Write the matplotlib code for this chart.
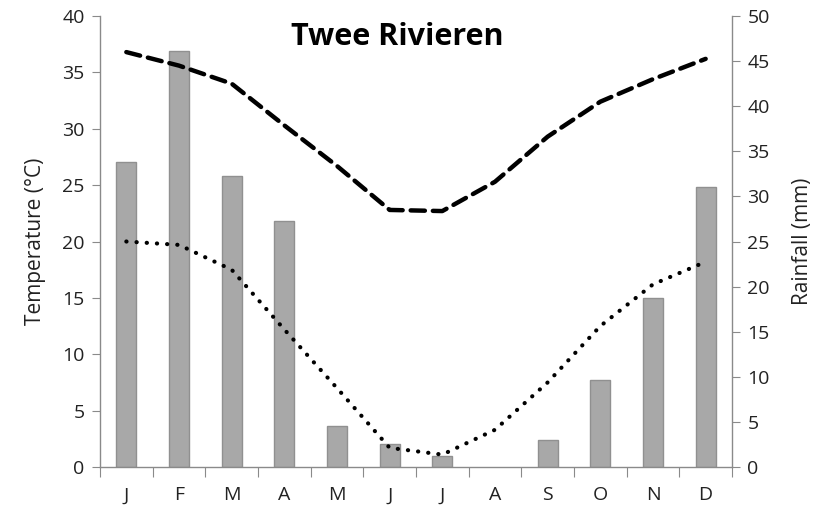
import matplotlib.pyplot as plt
import numpy as np

months = ["J", "F", "M", "A", "M", "J", "J", "A", "S", "O", "N", "D"]
rain_mm = [33.8, 46.1, 32.3, 27.3, 4.6, 2.6, 1.2, 0.0, 3.0, 9.7, 18.7, 31.0]
t_max = [36.8, 35.6, 34.0, 30.3, 26.7, 22.8, 22.7, 25.3, 29.3, 32.4, 34.4, 36.2]
t_min = [20.0, 19.7, 17.5, 12.2, 7.0, 1.7, 1.1, 3.3, 7.5, 12.5, 16.2, 18.2]

plt.rcParams['font.family'] = ['Open Sans', 'DejaVu Sans']
spine_c = '#8a8a8a'
text_c = '#222222'

fig = plt.figure(figsize=(8.23, 5.15), dpi=100)
ax = fig.add_axes([0.1215, 0.0932, 0.7679, 0.8757])
ax_r = ax.twinx()

x = np.arange(len(months))

# no outline on empty months
edge_w = [1 if v > 0 else 0 for v in rain_mm]
ax_r.bar(x, rain_mm, width=0.38, color='#a8a8a8', edgecolor='#909090', linewidth=edge_w)
ax.plot(x, t_max, color='black', linewidth=3.2, linestyle=(0, (3.2, 1.8)),
        dash_capstyle='round')
ax.plot(x, t_min, color='black', linewidth=3.0, linestyle=(0, (0.05, 2.4)),
        dash_capstyle='round')

ax.set_zorder(ax_r.get_zorder() + 1)
ax.patch.set_visible(False)

ax.set_xlim(-0.5, 11.5)
ax.set_ylim(0, 40)
ax_r.set_ylim(0, 50)
ax.set_yticks(np.arange(0, 41, 5))
ax_r.set_yticks(np.arange(0, 51, 5))

ax.set_xticks(np.arange(-0.5, 12, 1))
ax.set_xticklabels([])
ax.set_xticks(x, minor=True)
ax.set_xticklabels(months, minor=True)
ax.tick_params(axis='x', which='major', direction='out', length=7, color=spine_c)
ax.tick_params(axis='x', which='minor', length=0, pad=14, labelsize=14, labelcolor=text_c)
ax.tick_params(axis='y', direction='out', length=6, color=spine_c, labelsize=14,
               labelcolor=text_c, pad=5)
ax_r.tick_params(axis='y', direction='out', length=6, color=spine_c, labelsize=14,
                 labelcolor=text_c, pad=5)

for a in (ax, ax_r):
    a.spines['top'].set_visible(False)
    for s in ('left', 'right', 'bottom'):
        a.spines[s].set_color(spine_c)
        a.spines[s].set_linewidth(1)
ax.spines['right'].set_visible(False)
ax_r.spines['left'].set_visible(False)
ax_r.spines['bottom'].set_visible(False)

ax.set_ylabel("Temperature (°C)", fontsize=15, color=text_c, labelpad=12)
ax_r.set_ylabel("Rainfall (mm)", fontsize=15, color=text_c, labelpad=16)

fig.text(0.483, 0.928, "Twee Rivieren", ha='center', va='center',
         fontsize=22, fontweight='bold', color='black')

fig.savefig("out.png", dpi=100)
